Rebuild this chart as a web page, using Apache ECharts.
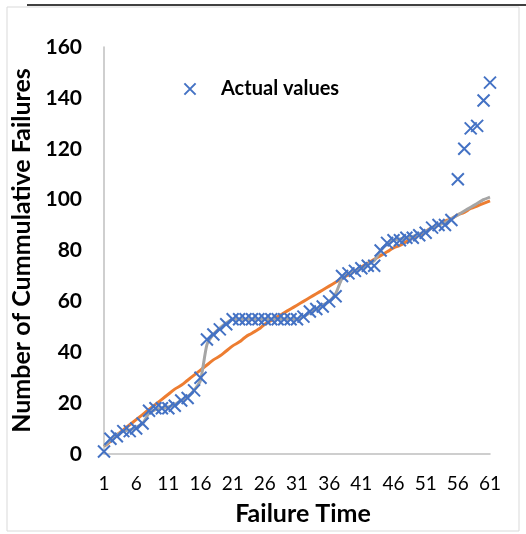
<!DOCTYPE html>
<html>
<head>
<meta charset="utf-8">
<script src="https://cdn.jsdelivr.net/npm/echarts@6/dist/echarts.min.js"></script>
<style>
html,body{margin:0;padding:0;background:#fff;}
#chart{width:526px;height:534px;}
</style>
</head>
<body>
<div id="chart"></div>
<script>
var categories = [];
for (var c = 1; c <= 61; c++) categories.push(String(c));

var actualValues = [1, 6, 7, 9, 9, 10, 12, 17, 18, 18,
  18, 19, 21, 22, 25, 30, 45, 47, 49, 51,
  53, 53, 53, 53, 53, 53, 53, 53, 53, 53,
  53, 54, 56, 57, 58, 60, 62, 70, 71, 72,
  73, 74, 74, 80, 83, 84, 84, 85, 85, 86,
  87, 89, 90, 90, 92, 108, 120, 128, 129, 139,
  146];

var orangeModel = [3, 5, 7.5, 9.5, 11.5, 13.5, 15.5, 17.5, 19.5, 21.5,
  23.5, 25.5, 27, 29, 31, 33, 35, 37, 38.5, 40.5,
  42.5, 44, 46, 47.5, 49, 51, 52.5, 54, 55.5, 57,
  58.5, 60, 61.5, 63, 64.5, 66, 67.5, 69, 70.5, 72,
  73.5, 75, 76.5, 78, 79.5, 81, 82, 83.5, 85, 86,
  87.5, 89, 90, 91.5, 92.5, 94, 95, 96.5, 97.5, 98.5,
  99.5];

var grayModel = [3, 5.5, 7.5, 9, 9.5, 10.5, 12, 16, 17.5, 18,
  18.5, 19.5, 21, 22.5, 25, 29, 43, 47, 49.5, 51.5,
  53, 53, 53, 53, 53, 53, 53, 53, 53, 53,
  53, 54, 55.5, 57, 58.5, 60, 63, 69, 71, 72,
  73, 74.5, 76, 80, 82.5, 84, 84.5, 85, 85.5, 86.5,
  87.5, 89, 90, 91, 92.5, 94, 95.5, 97, 98.5, 100,
  101];

var yTicks = [0, 20, 40, 60, 80, 100, 120, 140, 160];

var FONT = 'Lato';
var chart = echarts.init(document.getElementById('chart'), null, {renderer: 'canvas'});
var crossPath = 'path://M0,0L10,10M10,0L0,10';

chart.setOption({
  animation: false,
  backgroundColor: '#ffffff',
  graphic: [
    {type: 'rect', shape: {x: 7, y: 7, width: 512, height: 524}, style: {fill: 'none', stroke: '#d9d9d9', lineWidth: 1}, z: -10},
    {type: 'line', shape: {x1: 27, y1: 5, x2: 526, y2: 5}, style: {stroke: '#000', lineWidth: 1.5}}
  ],
  legend: {
    show: true,
    data: ['Actual values'],
    left: 178,
    top: 74,
    itemWidth: 14,
    itemHeight: 14,
    textStyle: {fontFamily: FONT, fontWeight: 'bold', fontSize: 20, color: '#000', padding: [0, 0, 0, 19]}
  },
  grid: {left: 104, right: 36, top: 47, bottom: 80, containLabel: false},
  xAxis: {
    type: 'category',
    data: categories,
    boundaryGap: false,
    name: 'Failure Time',
    nameLocation: 'middle',
    nameGap: 47,
    nameTextStyle: {fontFamily: FONT, fontWeight: 'bold', fontSize: 25, color: '#000', padding: [0, 0, 0, 12]},
    axisLine: {lineStyle: {color: '#bfbfbf', width: 1.5}},
    axisTick: {show: false},
    axisLabel: {interval: 4, fontFamily: FONT, fontSize: 19, color: '#000', margin: 20},
    splitLine: {show: false}
  },
  yAxis: {
    type: 'value',
    min: yTicks[0],
    max: yTicks[yTicks.length - 1],
    interval: 20,
    name: 'Number of Cummulative Failures',
    nameLocation: 'middle',
    nameGap: 61,
    nameTextStyle: {fontFamily: FONT, fontWeight: 'bold', fontSize: 25, color: '#000'},
    axisLine: {show: true, lineStyle: {color: '#bfbfbf', width: 1.5}},
    axisTick: {show: false},
    axisLabel: {fontFamily: FONT, fontWeight: 'bold', fontSize: 21, color: '#000', margin: 22},
    splitLine: {show: false}
  },
  series: [
    {
      name: 'Orange model',
      type: 'line',
      data: orangeModel,
      smooth: true,
      showSymbol: false,
      symbol: 'none',
      lineStyle: {color: '#ED7D31', width: 3},
      itemStyle: {color: '#ED7D31'},
      z: 2
    },
    {
      name: 'Gray model',
      type: 'line',
      data: grayModel,
      smooth: 0.2,
      showSymbol: false,
      symbol: 'none',
      lineStyle: {color: '#A5A5A5', width: 3},
      itemStyle: {color: '#A5A5A5'},
      z: 3
    },
    {
      name: 'Actual values',
      type: 'line',
      data: actualValues,
      symbol: crossPath,
      symbolSize: 12,
      showAllSymbol: true,
      lineStyle: {width: 0, opacity: 0},
      itemStyle: {color: 'rgba(0,0,0,0)', borderColor: '#4472C4', borderWidth: 2},
      z: 5
    }
  ]
});
</script>
</body>
</html>
